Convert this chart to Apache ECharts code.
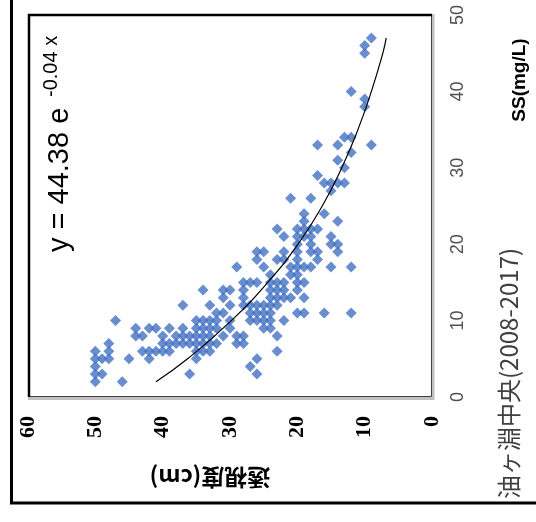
<!DOCTYPE html>
<html>
<head>
<meta charset="utf-8">
<script src="https://cdn.jsdelivr.net/npm/echarts@6/dist/echarts.min.js"></script>
<style>html,body{margin:0;padding:0;background:#fff}#c{width:536px;height:522px}</style>
</head>
<body>
<div id="c"></div>
<script>
// SS (mg/L) of each sample
const ssValues = [
  2,2,
  3,3,3,3,
  4,4,
  5,5,5,5,5,5,5,
  6,6,6,6,6,6,6,6,6,6,6,
  7,7,7,7,7,7,7,7,7,7,7,7,
  8,8,8,8,8,8,8,8,8,8,8,8,8,
  9,9,9,9,9,9,9,9,9,9,9,9,
  10,10,10,10,10,10,10,10,10,10,10,
  11,11,11,11,11,11,11,11,11,11,
  12,12,12,12,12,12,12,12,12,
  13,13,13,13,13,13,13,
  14,14,14,14,14,14,14,14,
  15,15,15,15,15,15,15,15,
  16,16,16,
  17,17,17,17,17,17,17,17,
  18,18,18,18,18,
  19,19,19,19,19,19,19,
  20,20,20,20,
  21,21,21,21,21,
  22,22,22,22,22,
  23,23,
  24,24,
  26,26,
  27,
  28,28,28,28,
  29,
  30,
  31,
  32,
  33,33,33,
  34,34,
  38,
  39,
  40,
  45,
  46,
  47
];
// 透視度 (cm) of each sample, same order
const clarityValues = [
  50,46,
  50,49,36,26,
  50,27,
  50,49,48,45,42,35,26,
  50,48,43,42,41,40,39,35,34,33,23,
  48,40,39,38,37,36,35,34,33,32,29,28,
  44,43,40,38,37,36,35,34,33,31,29,28,23,
  44,42,41,39,37,35,34,33,32,30,25,24,
  47,35,34,33,32,30,27,26,25,24,22,
  32,31,27,26,25,24,20,19,16,12,
  37,33,30,28,27,26,25,24,23,
  31,28,24,23,22,21,19,
  34,31,30,28,24,23,22,20,
  28,27,26,24,23,22,20,19,
  24,21,20,
  29,25,21,20,19,18,15,12,
  26,23,22,20,17,
  26,25,22,20,18,17,14,
  20,18,15,14,
  22,20,19,18,15,
  23,20,19,18,17,
  19,14,
  19,16,
  21,18,
  15,
  16,15,14,13,
  17,
  13,
  14,
  12,
  17,14,9,
  13,12,
  10,
  10,
  12,
  10,
  10,
  9
];
// trend line
const trendSS = [2, 5, 10, 15, 20, 25, 30, 35, 40, 45, 47];
const trendClarity = [41.0, 36.3, 29.8, 24.4, 19.9, 16.3, 13.4, 11.0, 9.0, 7.3, 6.8];

const clarityTicks = [0, 10, 20, 30, 40, 50, 60];
const ssTicks = [0, 10, 20, 30, 40, 50];

const titleText = '油ヶ淵中央(2008-2017)';
const eqMain = 'y = 44.38 e';
const eqSup = '-0.04 x';
const ssName = 'SS(mg/L)';
const clarityName = '透視度(cm)';

const scatterData = ssValues.map((s, i) => [clarityValues[i], s]);
const trendData = trendSS.map((s, i) => [trendClarity[i], s]);

const chart = echarts.init(document.getElementById('c'), null, {renderer: 'canvas'});
const R = Math.PI / 2;
chart.setOption({
  animation: false,
  backgroundColor: '#fff',
  grid: {left: 28, right: 104, top: 15, bottom: 125, outerBoundsMode: 'none', containLabel: false},
  xAxis: {
    type: 'value', min: clarityTicks[0], max: clarityTicks[clarityTicks.length - 1], interval: 10,
    inverse: true, position: 'bottom',
    axisLine: {show: false}, axisTick: {show: false}, splitLine: {show: false},
    axisLabel: {rotate: 90, margin: 19, fontFamily: '"Liberation Serif", "DejaVu Serif", serif',
      fontWeight: 'bold', fontSize: 22, color: '#000'}
  },
  yAxis: {
    type: 'value', min: ssTicks[0], max: ssTicks[ssTicks.length - 1], interval: 10,
    position: 'right',
    axisLine: {show: false}, axisTick: {show: false}, splitLine: {show: false},
    axisLabel: {rotate: 90, margin: 17, fontFamily: '"Liberation Sans", Arial, sans-serif',
      fontSize: 18, color: '#505050'}
  },
  series: [
    {
      type: 'scatter', data: scatterData, symbol: 'diamond', symbolSize: 11,
      itemStyle: {color: '#4472C4'}, z: 3
    },
    {
      type: 'line', data: trendData, smooth: true, showSymbol: false, symbol: 'none',
      lineStyle: {color: '#000', width: 1.2}, z: 4
    }
  ],
  graphic: [
    {type: 'rect', shape: {x: 11.5, y: -10, width: 700, height: 513}, silent: true,
      style: {fill: 'none', stroke: '#000', lineWidth: 3}},
    {type: 'polyline', shape: {points: [[433, 14], [433, 398.5], [28, 398.5]]}, silent: true,
      style: {fill: 'none', stroke: '#c0c0c0', lineWidth: 3}, z: 10},
    {type: 'polyline', shape: {points: [[431.5, 15], [431.5, 396.5], [29, 396.5]]}, silent: true,
      style: {fill: 'none', stroke: '#404040', lineWidth: 1}, z: 10},
    {type: 'polyline', shape: {points: [[29, 397], [29, 15], [432, 15]]}, silent: true,
      style: {fill: 'none', stroke: '#000', lineWidth: 2.5}, z: 10},
    {type: 'text', x: 60, y: 252, rotation: R, silent: true, z: 20,
      style: {text: eqMain, font: '29px "Liberation Sans", Arial, sans-serif', fill: '#000',
        textAlign: 'left', textVerticalAlign: 'middle', align: 'left', verticalAlign: 'middle'}},
    {type: 'text', x: 51, y: 97, rotation: R, silent: true, z: 20,
      style: {text: eqSup, font: '20px "Liberation Sans", Arial, sans-serif', fill: '#000',
        textAlign: 'left', textVerticalAlign: 'middle', align: 'left', verticalAlign: 'middle'}},
    {type: 'text', x: 509, y: 499, rotation: R, silent: true, z: 20,
      style: {text: titleText, font: '24px "Noto Sans CJK JP", sans-serif', fill: '#404040',
        textAlign: 'left', textVerticalAlign: 'middle', align: 'left', verticalAlign: 'middle'}},
    {type: 'text', x: 520, y: 80, rotation: R, silent: true, z: 20,
      style: {text: ssName, font: 'bold 19px "Liberation Sans", Arial, sans-serif', fill: '#000',
        textAlign: 'center', textVerticalAlign: 'middle', align: 'center', verticalAlign: 'middle'}},
    {type: 'text', x: 210, y: 478, rotation: Math.PI, silent: true, z: 20,
      style: {text: clarityName, font: 'bold 23px "Noto Sans CJK JP", sans-serif', fill: '#000',
        textAlign: 'center', textVerticalAlign: 'middle', align: 'center', verticalAlign: 'middle'}}
  ]
});
</script>
</body>
</html>
